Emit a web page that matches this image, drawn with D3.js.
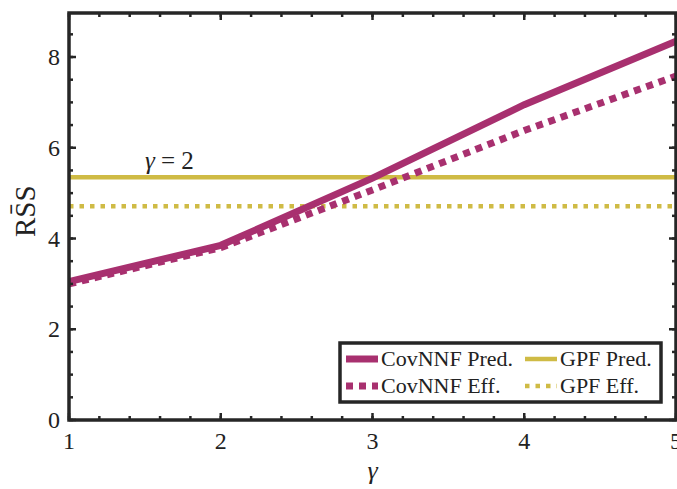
<!DOCTYPE html>
<html>
<head>
<meta charset="utf-8">
<script src="https://cdn.jsdelivr.net/npm/d3@7"></script>
<style>
  body { margin: 0; background: #fff; }
  text { font-family: "Liberation Serif", "DejaVu Serif", serif; fill: #222; }
</style>
</head>
<body>
<svg class="chart" width="677" height="489"></svg>
<script>
var gammas = [1, 2, 3, 4, 5];
var covPred = [3.05, 3.85, 5.33, 6.95, 8.35];
var covEff = [3.0, 3.8, 5.07, 6.38, 7.58];
var gpfPred = 5.35;
var gpfEff = 4.71;
var xTicks = [1, 2, 3, 4, 5];
var yTicks = [0, 2, 4, 6, 8];

var magenta = "#a8306f";
var yellow = "#cfbb45";

var margin = {top: 13, right: 1, bottom: 69, left: 69};
var svg = d3.select(".chart");
var w = +svg.attr("width") - margin.left - margin.right;
var h = +svg.attr("height") - margin.top - margin.bottom;

var xScale = d3.scaleLinear().domain([1, 5]).range([0, w]);
var yScale = d3.scaleLinear().domain([0, 8.97]).range([h, 0]);

var g = svg.append("g").attr("transform", "translate(" + margin.left + "," + margin.top + ")");

svg.append("defs").append("clipPath").attr("id", "clip")
    .append("rect").attr("width", w).attr("height", h);

var plot = g.append("g").attr("clip-path", "url(#clip)");

// horizontal GPF lines
plot.append("line")
    .attr("x1", 0).attr("x2", w)
    .attr("y1", yScale(gpfPred)).attr("y2", yScale(gpfPred))
    .attr("stroke", yellow).attr("stroke-width", 4.5);
plot.append("line")
    .attr("x1", 0).attr("x2", w)
    .attr("y1", yScale(gpfEff)).attr("y2", yScale(gpfEff))
    .attr("stroke", yellow).attr("stroke-width", 4.5)
    .attr("stroke-dasharray", "4.5,6");

var line = d3.line()
    .x(function(d, i) { return xScale(gammas[i]); })
    .y(function(d) { return yScale(d); });

plot.append("path").datum(covEff)
    .attr("d", line).attr("fill", "none")
    .attr("stroke", magenta).attr("stroke-width", 7)
    .attr("stroke-dasharray", "7,6");
plot.append("path").datum(covPred)
    .attr("d", line).attr("fill", "none")
    .attr("stroke", magenta).attr("stroke-width", 7);

// inward ticks on all four sides
var minorX = d3.range(1, 5.001, 0.2);
var minorY = d3.range(0, 9, 0.5);

function tickSet(sel, vals, len, orient) {
    var horiz = orient === "b" || orient === "t";
    sel.selectAll(null).data(vals).enter().append("line")
        .attr("stroke", "#262626").attr("stroke-width", 2.5)
        .attr("x1", function(d) { return horiz ? xScale(d) : (orient === "l" ? 0 : w); })
        .attr("x2", function(d) { return horiz ? xScale(d) : (orient === "l" ? len : w - len); })
        .attr("y1", function(d) { return horiz ? (orient === "b" ? h : 0) : yScale(d); })
        .attr("y2", function(d) { return horiz ? (orient === "b" ? h - len : len) : yScale(d); });
}
var ticks = g.append("g");
["b", "t"].forEach(function(o) { tickSet(ticks, minorX, 4, o); tickSet(ticks, xTicks, 7, o); });
["l", "r"].forEach(function(o) { tickSet(ticks, minorY, 4, o); tickSet(ticks, yTicks, 7, o); });

g.append("rect").attr("width", w).attr("height", h)
    .attr("fill", "none").attr("stroke", "#262626").attr("stroke-width", 3.5);

g.selectAll(".xl").data(xTicks).enter().append("text")
    .attr("x", function(d) { return xScale(d); })
    .attr("y", h + 29).attr("text-anchor", "middle")
    .style("font-size", "24px").text(function(d) { return d; });
g.selectAll(".yl").data(yTicks).enter().append("text")
    .attr("x", -9).attr("y", function(d) { return yScale(d) + 8; })
    .attr("text-anchor", "end")
    .style("font-size", "24px").text(function(d) { return d; });

// axis labels
g.append("text").attr("x", xScale(3)).attr("y", h + 59)
    .attr("text-anchor", "middle").style("font-size", "26px").style("font-style", "italic")
    .text("γ");
var yl = svg.append("text")
    .attr("transform", "translate(35," + (margin.top + yScale(4.6)) + ") rotate(-90)")
    .attr("text-anchor", "middle").style("font-size", "29px");
yl.append("tspan").text("R");
yl.append("tspan").text("S\u0304");
yl.append("tspan").text("S");

// annotation
g.append("text").attr("x", xScale(1.5)).attr("y", yScale(gpfPred) - 8)
    .style("font-size", "25px")
    .html('<tspan font-style="italic">γ</tspan> = 2');

// legend
var legend = g.append("g").attr("transform", "translate(" + (340 - margin.left) + "," + (343 - margin.top) + ")");
legend.append("rect").attr("width", 321).attr("height", 59)
    .attr("fill", "#fff").attr("stroke", "#262626").attr("stroke-width", 3.5);
var legendItems = [
    {label: "CovNNF Pred.", color: magenta, width: 7, dash: null, x: 6, y: 16},
    {label: "CovNNF Eff.", color: magenta, width: 7, dash: "7,6", x: 6, y: 43},
    {label: "GPF Pred.", color: yellow, width: 4.5, dash: null, x: 185, y: 16},
    {label: "GPF Eff.", color: yellow, width: 4.5, dash: "4.5,6", x: 185, y: 43}
];
var item = legend.selectAll(".item").data(legendItems).enter().append("g")
    .attr("transform", function(d) { return "translate(" + d.x + "," + d.y + ")"; });
item.append("line").attr("x1", 0).attr("x2", 32)
    .attr("stroke", function(d) { return d.color; })
    .attr("stroke-width", function(d) { return d.width; })
    .attr("stroke-dasharray", function(d) { return d.dash; });
item.append("text").attr("x", 35).attr("y", 7)
    .style("font-size", "22px").text(function(d) { return d.label; });
</script>
</body>
</html>
